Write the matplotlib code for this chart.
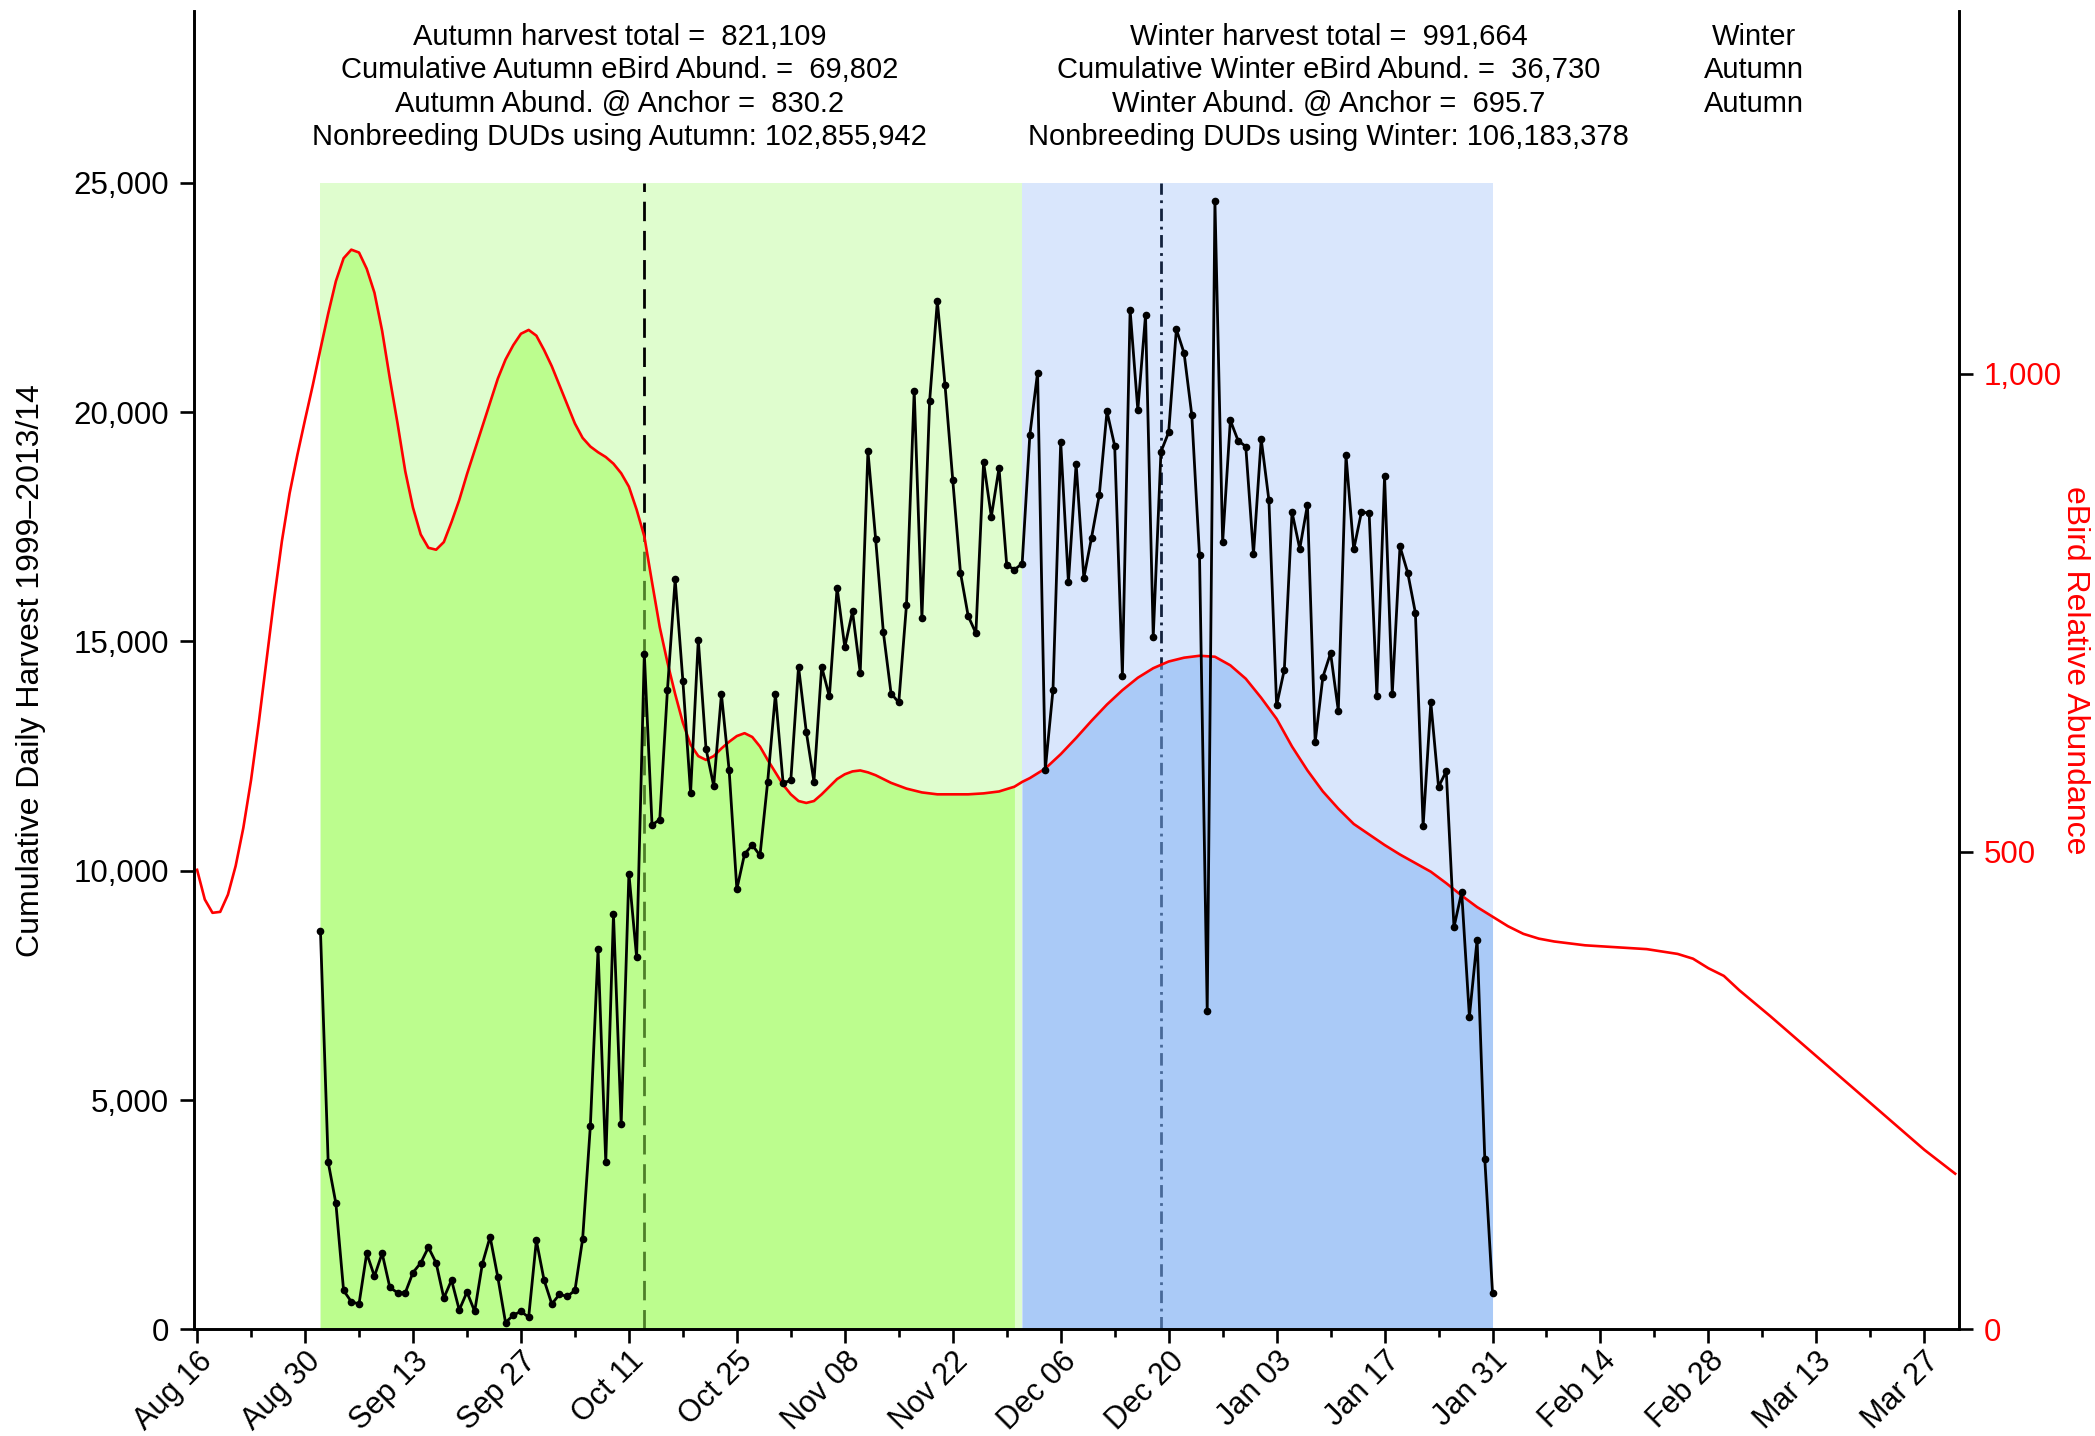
import numpy as np
import pandas as pd
import matplotlib
matplotlib.use("Agg")
import matplotlib.pyplot as plt
import matplotlib.dates as mdates
from matplotlib.patches import Rectangle
from matplotlib.ticker import FuncFormatter

plt.rcParams['font.family'] = ['Liberation Sans', 'DejaVu Sans']

# daily harvest, Sep 1 .. Jan 31
harvest_start = "2015-09-01"
harvest = [
    8690, 3650, 2750, 850, 605, 555, 1660, 1160, 1660, 915,
    800, 800, 1240, 1450, 1790, 1450, 685, 1075, 425, 815,
    395, 1435, 2020, 1140, 150, 310, 395, 265, 1940, 1075,
    555, 765, 720, 850, 1970, 4430, 8285, 3650, 9050, 4480,
    9940, 8120, 14730, 11000, 11115, 13945, 16355, 14140, 11700, 15035,
    12660, 11850, 13850, 12190, 9600, 10365, 10560, 10335, 11945, 13850,
    11910, 11975, 14450, 13035, 11945, 14450, 13800, 16175, 14875, 15655,
    14320, 19150, 17230, 15200, 13865, 13670, 15800, 20470, 15510, 20240,
    22420, 20585, 18520, 16500, 15555, 15180, 18910, 17720, 18780, 16665,
    16565, 16695, 19510, 20860, 12205, 13945, 19350, 16290, 18875, 16385,
    17265, 18190, 20015, 19265, 14255, 22225, 20045, 22115, 15100, 19135,
    19560, 21805, 21285, 19935, 16875, 6935, 24605, 17160, 19820, 19380,
    19250, 16905, 19415, 18080, 13605, 14385, 17820, 17020, 17980, 12805,
    14225, 14745, 13490, 19055, 17005, 17820, 17800, 13815, 18600, 13865,
    17070, 16500, 15620, 10970, 13670, 11830, 12170, 8770, 9535, 6820,
    8495, 3710, 800,
]

# eBird relative abundance (days after Aug 16)
season_start = pd.Timestamp("2015-08-16")
abund_day = [
    0, 1, 2, 3, 4, 5, 6, 7, 8, 9, 10, 11, 12, 13, 14, 15, 16, 17, 18, 19,
    20, 21, 22, 23, 24, 25, 26, 27, 28, 29, 30, 31, 32, 33, 34, 35, 36, 37,
    38, 39, 40, 41, 42, 43, 44, 45, 46, 47, 48, 49, 50, 51, 52, 53, 54, 55,
    56, 57, 58, 59, 60, 61, 62, 63, 64, 65, 66, 67, 68, 69, 70, 71, 72, 73,
    74, 75, 76, 77, 78, 79, 80, 81, 82, 83, 84, 85, 86, 87, 88, 89, 90, 92,
    94, 96, 98, 100, 102, 104, 106, 107, 108, 110, 112, 114, 116, 118, 120,
    122, 124, 126, 128, 130, 132, 134, 136, 138, 140, 142, 144, 146, 148,
    150, 152, 154, 156, 158, 160, 162, 164, 166, 168, 170, 172, 174, 176,
    180, 184, 188, 192, 194, 196, 198, 200, 204, 208, 212, 216, 220, 224, 228,
]
abund = [
    481, 450, 436, 437, 455, 485, 525, 575, 635, 700, 765, 825, 875, 915,
    952, 988, 1026, 1063, 1097, 1121, 1130, 1127, 1110, 1085, 1045, 995,
    948, 898, 860, 832, 818, 816, 824, 845, 868, 895, 920, 945, 970, 995,
    1015, 1030, 1042, 1046, 1040, 1025, 1008, 988, 968, 948, 933, 924, 918,
    913, 906, 896, 882, 858, 830, 782, 735, 698, 665, 635, 612, 600, 596,
    600, 608, 615, 621, 624, 620, 610, 596, 583, 570, 560, 553, 551, 553,
    560, 568, 576, 581, 584, 585, 583, 580, 576, 572, 566, 562, 560, 560,
    560, 561, 563, 568, 573, 577, 587, 602, 619, 637, 654, 669, 682, 692,
    699, 703, 705, 704, 695, 681, 661, 639, 610, 585, 563, 545, 529, 518,
    507, 497, 488, 479, 467, 454, 442, 432, 422, 414, 409, 406, 402, 400,
    398, 393, 388, 378, 370, 355, 328, 300, 272, 244, 216, 188, 163,
]

autumn_span = ("2015-09-01", "2015-12-01")
winter_span = ("2015-12-01", "2016-01-31")
autumn_fill_end = "2015-11-30"
autumn_anchor = "2015-10-13"
winter_anchor = "2015-12-19"

autumn_text = ["Autumn harvest total =  821,109",
               "Cumulative Autumn eBird Abund. =  69,802",
               "Autumn Abund. @ Anchor =  830.2",
               "Nonbreeding DUDs using Autumn: 102,855,942"]
winter_text = ["Winter harvest total =  991,664",
               "Cumulative Winter eBird Abund. =  36,730",
               "Winter Abund. @ Anchor =  695.7",
               "Nonbreeding DUDs using Winter: 106,183,378"]
source_text = ["Winter", "Autumn", "Autumn"]

harvest_dates = pd.date_range(harvest_start, periods=len(harvest), freq="D")
abund_dates = season_start + pd.to_timedelta(abund_day, unit="D")
abund = np.array(abund)

fig = plt.figure(figsize=(20.95, 14.36), dpi=100)
ax = fig.add_axes([0.0926, 0.0742, 0.8425, 0.9183])
ax2 = ax.twinx()
ax.set_zorder(2)
ax2.set_zorder(1)
ax.patch.set_visible(False)

# season shading (drawn on ax2 in harvest units so the fills sit above)
for (s, e), col in [(autumn_span, "#dffdce"), (winter_span, "#d9e6fc")]:
    x0 = mdates.date2num(pd.Timestamp(s))
    x1 = mdates.date2num(pd.Timestamp(e))
    ax2.add_patch(Rectangle((x0, 0), x1 - x0, 25000, transform=ax.transData,
                            facecolor=col, edgecolor="none", zorder=0))

ax2.plot([pd.Timestamp(autumn_anchor)] * 2, [0, 25000], transform=ax.transData,
         color="black", lw=2.0, dashes=(7, 3.5), zorder=1)
ax2.plot([pd.Timestamp(winter_anchor)] * 2, [0, 25000], transform=ax.transData,
         color="#13223d", lw=2.0, dashes=(4.5, 2, 1, 2), zorder=1)

m_aut = (abund_dates >= pd.Timestamp(autumn_span[0])) & (abund_dates <= pd.Timestamp(autumn_fill_end))
m_win = (abund_dates >= pd.Timestamp(winter_span[0])) & (abund_dates <= pd.Timestamp(winter_span[1]))
ax2.fill_between(abund_dates[m_aut], 0, abund[m_aut], color="#9afd50", alpha=0.5, lw=0, zorder=2)
ax2.fill_between(abund_dates[m_win], 0, abund[m_win], color="#7db0f4", alpha=0.5, lw=0, zorder=2)
ax2.plot(abund_dates, abund, color="red", lw=1.9, zorder=3)

ax.plot(harvest_dates, harvest, color="black", lw=2.0, marker="o", ms=4.5, zorder=4)

ax.set_xlim(mdates.date2num(season_start) - 0.4, mdates.date2num(season_start) + 228.5)
ax.set_ylim(0, 28750)
ax2.set_ylim(0, 1380)

ax.set_xticks(pd.date_range(season_start, periods=17, freq="14D"))
ax.set_xticks(pd.date_range(season_start, periods=33, freq="7D"), minor=True)
ax.xaxis.set_major_formatter(mdates.DateFormatter("%b %d"))
for lab in ax.get_xticklabels():
    lab.set_rotation(45)
    lab.set_ha("right")
    lab.set_va("top")
    lab.set_rotation_mode("anchor")

ax.set_yticks(range(0, 25001, 5000))
ax.yaxis.set_major_formatter(FuncFormatter(lambda v, p: f"{v:,.0f}"))
ax2.set_yticks([0, 500, 1000])
ax2.yaxis.set_major_formatter(FuncFormatter(lambda v, p: f"{v:,.0f}"))

for a in (ax, ax2):
    a.spines["top"].set_visible(False)
    for sp in a.spines.values():
        sp.set_linewidth(1.9)
ax.tick_params(axis="x", which="major", length=10, width=1.9, labelsize=22, pad=2)
ax.tick_params(axis="x", which="minor", length=6, width=1.9)
ax.tick_params(axis="y", length=10, width=1.9, labelsize=22.5, pad=8)
ax2.tick_params(axis="y", length=10, width=1.9, labelsize=22.5, pad=8, labelcolor="red")

ax.set_ylabel("Cumulative Daily Harvest 1999\u20132013/14", fontsize=23)
ax.yaxis.set_label_coords(-0.084, 0.5)
ax2.set_ylabel("eBird Relative Abundance", fontsize=23, color="red", rotation=270, va="bottom")
ax2.yaxis.set_label_coords(1.057, 0.5)

for xs, lines in [(0.241, autumn_text), (0.643, winter_text), (0.884, source_text)]:
    ax.text(xs, 0.991, "\n".join(lines), transform=ax.transAxes, ha="center", va="top",
            ma="center", fontsize=21, linespacing=1.25)

fig.savefig("out.png", dpi=100)
